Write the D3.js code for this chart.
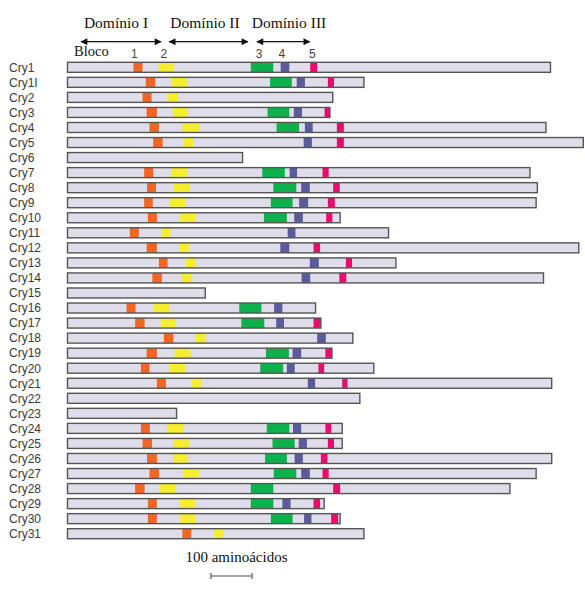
<!DOCTYPE html>
<html>
<head>
<meta charset="utf-8">
<script src="https://cdn.jsdelivr.net/npm/d3@7"></script>
<style>
  html, body { margin: 0; padding: 0; background: #fff; }
  svg { display: block; }
</style>
</head>
<body>
<svg id="chart" width="585" height="591"></svg>
<script>
// ---- data (lengths and block positions in amino acids) ----
const names = ["Cry1","Cry1I","Cry2","Cry3","Cry4","Cry5","Cry6","Cry7","Cry8","Cry9","Cry10",
  "Cry11","Cry12","Cry13","Cry14","Cry15","Cry16","Cry17","Cry18","Cry19","Cry20","Cry21",
  "Cry22","Cry23","Cry24","Cry25","Cry26","Cry27","Cry28","Cry29","Cry30","Cry31"];
const lengths = [1178,723,647,640,1167,1258,427,1128,1146,1143,665,783,1247,801,1161,336,
  605,618,696,645,747,1181,713,266,670,670,1181,1143,1079,626,665,723];
const block1 = [[161,183],[191,214],[183,205],[193,218],[200,223],[209,232],null,[187,209],[194,216],[187,208],[196,218],
  [152,174],[193,218],[223,244],[207,230],null,[144,166],[165,188],[235,258],[193,218],[179,200],[218,240],
  null,null,[179,201],[183,206],[194,218],[200,223],[165,188],[196,218],[196,218],[280,302]];
const block2 = [[222,260],[253,291],[245,270],[257,293],[280,321],[283,307],null,[252,291],[259,298],[250,288],[275,314],
  [230,251],[274,296],[288,311],[279,304],null,[211,250],[227,265],[313,338],[261,300],[248,287],[303,327],
  null,null,[243,282],[257,296],[257,293],[281,321],[226,265],[274,312],[275,313],[358,381]];
const block3 = [[447,502],[494,547],null,[488,541],[510,565],null,null,[475,530],[502,558],[496,549],[479,535],
  null,null,null,null,null,[419,473],[424,480],null,[484,540],[470,526],null,
  null,null,[486,541],[500,554],[482,535],[503,558],[447,502],[447,502],[496,549],null];
const block4 = [[520,541],[559,579],null,[552,572],[579,598],[576,596],null,[542,560],[570,591],[565,587],[553,574],
  [537,556],[519,541],[591,613],[571,592],null,[504,524],[509,528],[609,630],[549,570],[535,554],[586,604],
  null,null,[550,570],[564,584],[554,574],[570,591],null,[524,544],[577,595],null];
const block5 = [[592,609],[635,650],null,[627,640],[657,674],[657,674],null,[622,637],[648,664],[635,652],[631,646],
  null,[600,616],[679,694],[663,680],null,null,[600,618],null,[629,645],[612,626],[670,683],
  null,null,[629,643],[635,650],[618,634],[622,637],[648,665],[600,616],[643,660],null];
const blockColors = ["#f26522","#f5ee30","#0db14b","#5b5a9c","#ec0b6d"];
const blockLabels = ["1","2","3","4","5"];
const blockLabelPos = [163,235,467,523,597];
const domainNames = ["Domínio I","Domínio II","Domínio III"];
const domainSpans = [[33,228],[248,440],[462,591]];
const domainTextPos = [116,205,289]; // text centre, px
const scaleBarStart = 350, scaleBarLen = 100;
const scaleBarLabel = "100 aminoácidos";

// ---- layout ----
const svg = d3.select("#chart");
const x = d3.scaleLinear().domain([0, 100]).range([67.5, 108.5]);
const y = d3.scalePoint().domain(names).range([67.3, 533.7]);
const barH = 10;

const defs = svg.append("defs");
defs.append("marker").attr("id","ah").attr("viewBox","0 0 10 10")
  .attr("refX",9).attr("refY",5).attr("markerWidth",9).attr("markerHeight",7)
  .attr("markerUnits","userSpaceOnUse").attr("orient","auto-start-reverse")
  .append("path").attr("d","M0,0 L10,5 L0,10 Z").attr("fill","#111");

// header
const hdr = svg.append("g");
hdr.selectAll("text.dom").data(domainNames).join("text")
  .attr("class","dom")
  .attr("x",(d,i)=>domainTextPos[i]).attr("y",28)
  .attr("text-anchor","middle")
  .attr("font-family","'Liberation Serif', 'Times New Roman', serif")
  .attr("font-size",15.5).attr("fill","#111").text(d=>d);
hdr.selectAll("line.arr").data(domainSpans).join("line")
  .attr("class","arr")
  .attr("x1",d=>x(d[0])).attr("x2",d=>x(d[1]))
  .attr("y1",41.7).attr("y2",41.7)
  .attr("stroke","#111").attr("stroke-width",1.3)
  .attr("marker-start","url(#ah)").attr("marker-end","url(#ah)");
hdr.append("text").attr("x",74).attr("y",56)
  .attr("font-family","'Liberation Serif', 'Times New Roman', serif")
  .attr("font-size",14.5).attr("fill","#111").text("Bloco");
hdr.selectAll("text.num").data(blockLabels).join("text")
  .attr("class","num")
  .attr("x",(d,i)=>x(blockLabelPos[i])).attr("y",57.5)
  .attr("text-anchor","middle")
  .attr("font-family","'Liberation Sans', Arial, sans-serif")
  .attr("font-size",12).attr("fill","#444").text(d=>d);

// rows
const rows = svg.append("g").selectAll("g.row").data(names).join("g")
  .attr("class","row")
  .attr("transform",d=>`translate(0,${y(d)})`);

rows.append("text")
  .attr("x",9).attr("y",0).attr("dy","0.36em")
  .attr("font-family","'Liberation Sans', Arial, sans-serif")
  .attr("font-size",12).attr("fill","#3a3a3a")
  .text(d=>d);

rows.append("rect")
  .attr("x",x(0)).attr("y",-barH/2)
  .attr("width",(d,i)=>x(lengths[i])-x(0)).attr("height",barH)
  .attr("fill","#dedde9");

const blocks = [block1,block2,block3,block4,block5];
rows.each(function(d,i){
  const g = d3.select(this);
  const items = blocks.map((b,k)=>({r:b[i],c:blockColors[k]})).filter(o=>o.r);
  g.selectAll("rect.blk").data(items).join("rect")
    .attr("class","blk")
    .attr("x",o=>x(o.r[0])).attr("width",o=>x(o.r[1])-x(o.r[0]))
    .attr("y",-barH/2).attr("height",barH)
    .attr("fill",o=>o.c);
});

rows.append("rect")
  .attr("x",x(0)).attr("y",-barH/2)
  .attr("width",(d,i)=>x(lengths[i])-x(0)).attr("height",barH)
  .attr("fill","none").attr("stroke","#555").attr("stroke-width",1.4);

// scale bar
const sb = svg.append("g");
sb.append("text").attr("x",(x(scaleBarStart)+x(scaleBarStart+scaleBarLen))/2 + 5).attr("y",562)
  .attr("text-anchor","middle")
  .attr("font-family","'Liberation Serif', 'Times New Roman', serif")
  .attr("font-size",15).attr("fill","#111").text(scaleBarLabel);
sb.append("line").attr("x1",x(scaleBarStart)).attr("x2",x(scaleBarStart+scaleBarLen))
  .attr("y1",576).attr("y2",576).attr("stroke","#555").attr("stroke-width",1.2);
sb.selectAll("line.tk").data([scaleBarStart, scaleBarStart+scaleBarLen]).join("line")
  .attr("class","tk").attr("x1",d=>x(d)).attr("x2",d=>x(d))
  .attr("y1",573).attr("y2",579).attr("stroke","#555").attr("stroke-width",1.2);
</script>
</body>
</html>
